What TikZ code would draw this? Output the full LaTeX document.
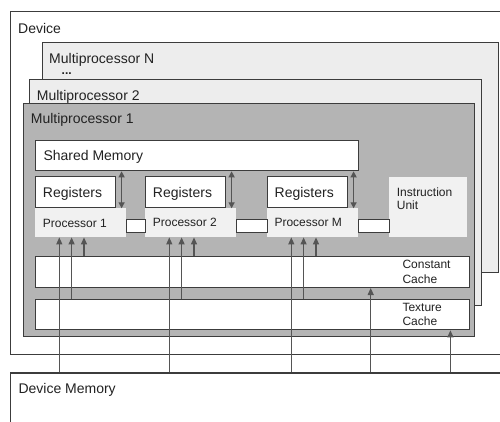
\documentclass[tikz,border=0pt]{standalone}
\usepackage{fontspec}
\setmainfont{Liberation Sans}
\usetikzlibrary{arrows.meta,calc}
\definecolor{ink}{HTML}{3C3C3C}
\definecolor{wire}{HTML}{555555}
\definecolor{panel}{HTML}{EDEDED}
\definecolor{mpgray}{HTML}{B4B4B4}
\definecolor{unitfill}{HTML}{F1F1F1}
\definecolor{txt}{HTML}{222222}
\tikzset{
  box/.style={rectangle, draw=ink, line width=1.3pt, fill=white, inner sep=0pt, anchor=north west},
  flat/.style={rectangle, draw=none, fill=unitfill, inner sep=0pt, anchor=north west},
  big/.style={inner sep=0pt, anchor=base west, text=txt, font=\fontsize{14}{16}\selectfont},
  small/.style={inner sep=0pt, anchor=base west, text=txt, font=\fontsize{12}{14}\selectfont},
  arr/.style={draw=wire, line width=1.2pt, -{Triangle[length=7pt,width=6pt]}},
  dbl/.style={draw=wire, line width=1.2pt, {Triangle[length=6pt,width=6pt]}-{Triangle[length=6pt,width=6pt]}}
}
\begin{document}
\begin{tikzpicture}[x=1pt,y=-1pt]
\useasboundingbox (0,0) rectangle (500,421);
\clip (0,0) rectangle (500,421);
\fill[white] (0,0) rectangle (500,421);

% device and the stacked multiprocessors
\node[box, minimum width=505pt, minimum height=343pt] (device) at (10,11) {};
\node[big] (tdevice) at (18,33) {Device};
\node[box, fill=panel, minimum width=456.3pt, minimum height=230pt] (mpN) at (41.7,42) {};
\node[big] (tmpN) at (49,63) {Multiprocessor N};
\node[big, font=\bfseries\fontsize{12}{14}\selectfont] (dots) at (61.5,74.5) {...};
\node[box, fill=panel, minimum width=451.7pt, minimum height=226pt] (mp2) at (29,79) {};
\node[big] (tmp2) at (36.7,100) {Multiprocessor 2};
\node[box, fill=mpgray, minimum width=451.3pt, minimum height=232.7pt] (mp1) at (22.7,103) {};
\node[big] (tmp1) at (30.7,123) {Multiprocessor 1};

% shared memory, registers, processors
\node[box, minimum width=323pt, minimum height=30pt] (smem) at (35,140) {};
\node[big] (tsmem) at (43.3,160.7) {Shared Memory};

\node[box, minimum width=80pt, minimum height=31pt] (reg1) at (35,176) {};
\node[box, minimum width=80pt, minimum height=31pt] (reg2) at (145,176) {};
\node[box, minimum width=80pt, minimum height=31pt] (regM) at (267,176) {};
\node[big] (treg1) at (42.7,197.3) {Registers};
\node[big] (treg2) at (152.7,197.3) {Registers};
\node[big] (tregM) at (274.5,197.3) {Registers};

\node[flat, minimum width=91pt, minimum height=29pt] (proc1) at (35,208) {};
\node[flat, minimum width=91pt, minimum height=29pt] (proc2) at (145,208) {};
\node[flat, minimum width=91pt, minimum height=29pt] (procM) at (267,208) {};
\node[small] (tproc1) at (42.7,227.6) {Processor 1};
\node[small] (tproc2) at (152.7,226) {Processor 2};
\node[small] (tprocM) at (274.3,226) {Processor M};

\node[flat, minimum width=78pt, minimum height=60pt] (iu) at (389,177) {};
\node[small] (tiu1) at (396.7,196) {Instruction};
\node[small] (tiu2) at (396.7,209.3) {Unit};

% links between neighbouring units
\node[box, line width=1.2pt, minimum width=19pt, minimum height=13pt] (link12) at (126,219) {};
\node[box, line width=1.2pt, minimum width=31pt, minimum height=13pt] (link2M) at (236,219) {};
\node[box, line width=1.2pt, minimum width=31pt, minimum height=13pt] (linkMI) at (358,219) {};

% register <-> shared memory
\foreach \r in {reg1,reg2,regM}{
  \coordinate (\r x) at ($(\r.east)+(5.3,0)$);
  \draw[dbl] (smem.south -| \r x) -- (\r.south -| \r x);
}

% caches
\node[box, minimum width=434pt, minimum height=30.7pt] (constant) at (35,256) {};
\node[small] (tconst1) at (402.3,268.3) {Constant};
\node[small] (tconst2) at (402.3,283.3) {Cache};
\node[box, minimum width=434pt, minimum height=30pt] (texture) at (35,299) {};
\node[small] (ttex1) at (402.3,311.6) {Texture};
\node[small] (ttex2) at (402.3,325.3) {Cache};

% device memory
\node[box, minimum width=505pt, minimum height=60pt] (devmem) at (10,372.3) {};
\node[big] (tdevmem) at (18.3,393.3) {Device Memory};

% memory paths into each processor
\foreach \p in {proc1,proc2,procM}{
  \coordinate (\p a) at ($(\p.south west)+(24.3,0)$);
  \coordinate (\p b) at ($(\p.south west)+(36.6,0)$);
  \coordinate (\p c) at ($(\p.south west)+(49,0)$);
  \draw[arr] (devmem.north -| \p a) -- (\p.south -| \p a);
  \draw[arr] (texture.north -| \p b) -- (\p.south -| \p b);
  \draw[arr] (constant.north -| \p c) -- (\p.south -| \p c);
}

% device memory feeding the caches
\coordinate (cfeed) at (370.7,0);
\coordinate (tfeed) at (450.4,0);
\draw[arr] (devmem.north -| cfeed) -- (constant.south -| cfeed);
\draw[arr] (devmem.north -| tfeed) -- (texture.south -| tfeed);
\end{tikzpicture}
\end{document}
